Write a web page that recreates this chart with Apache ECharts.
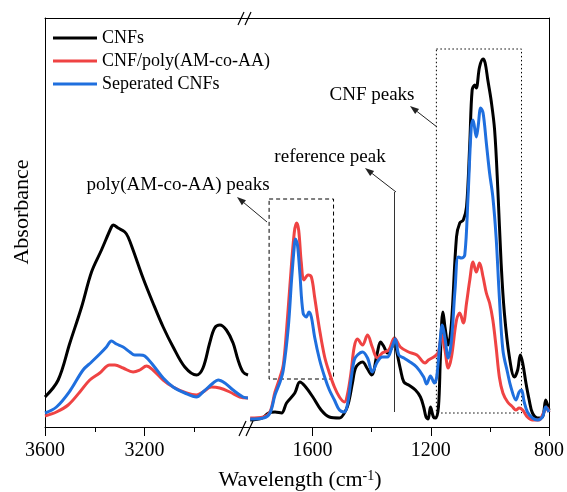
<!DOCTYPE html>
<html>
<head>
<meta charset="utf-8">
<script src="https://cdn.jsdelivr.net/npm/echarts@6/dist/echarts.min.js"></script>
<style>
  html, body { margin: 0; padding: 0; background: #fff; }
  #chart { width: 567px; height: 492px; }
</style>
</head>
<body>
<div id="chart"></div>
<script>
// wavenumber (cm-1), absorbance (a.u.)
const cnfLeft = [[3600,0.30],[3547,0.47],[3500,0.84],[3453,1.20],[3413,1.55],[3373,1.77],[3333,2.00],[3326,2.02],[3306,1.99],[3279,1.95],[3266,1.90],[3246,1.77],[3206,1.49],[3166,1.24],[3125,1.00],[3085,0.80],[3038,0.60],[2991,0.52],[2965,0.59],[2938,0.84],[2918,0.99],[2897,1.02],[2871,0.97],[2844,0.84],[2824,0.67],[2804,0.55],[2784,0.52]]
const compLeft = [[3600,0.11],[3554,0.15],[3507,0.22],[3460,0.35],[3420,0.47],[3380,0.54],[3340,0.62],[3319,0.62],[3286,0.59],[3246,0.55],[3219,0.57],[3192,0.61],[3166,0.57],[3125,0.47],[3085,0.40],[3031,0.34],[2991,0.32],[2965,0.35],[2931,0.40],[2898,0.39],[2857,0.35],[2817,0.30],[2784,0.29]]
const sepLeft = [[3600,0.14],[3554,0.20],[3500,0.36],[3447,0.57],[3413,0.65],[3380,0.73],[3353,0.80],[3333,0.86],[3313,0.83],[3286,0.80],[3259,0.75],[3239,0.72],[3219,0.72],[3199,0.71],[3166,0.62],[3125,0.49],[3085,0.40],[3038,0.34],[2991,0.30],[2965,0.35],[2924,0.44],[2904,0.47],[2877,0.44],[2844,0.37],[2804,0.30],[2784,0.29]]

const cnfRight = [[1811,0.07],[1771,0.09],[1749,0.14],[1727,0.15],[1705,0.14],[1688,0.24],[1660,0.34],[1643,0.45],[1626,0.41],[1599,0.30],[1571,0.17],[1543,0.10],[1509,0.09],[1487,0.17],[1476,0.27],[1465,0.44],[1453,0.60],[1431,0.65],[1414,0.58],[1400,0.52],[1381,0.74],[1370,0.85],[1358,0.80],[1347,0.74],[1331,0.80],[1323,0.89],[1314,0.74],[1302,0.57],[1291,0.45],[1275,0.42],[1252,0.37],[1235,0.30],[1224,0.20],[1216,0.10],[1209,0.08],[1201,0.20],[1191,0.10],[1183,0.09],[1174,0.20],[1168,0.65],[1163,1.05],[1159,1.15],[1152,1.00],[1141,0.82],[1130,1.04],[1113,1.90],[1102,2.04],[1090,2.07],[1079,2.20],[1068,2.84],[1060,3.37],[1051,3.42],[1046,3.39],[1035,3.60],[1023,3.68],[1016,3.64],[1007,3.47],[996,3.27],[984,2.97],[973,2.37],[962,1.64],[951,1.14],[934,0.70],[917,0.50],[906,0.57],[897,0.72],[889,0.64],[878,0.44],[867,0.27],[856,0.14],[839,0.09],[822,0.10],[811,0.27],[800,0.17]]
const compRight = [[1811,0.09],[1766,0.10],[1744,0.15],[1727,0.35],[1710,0.50],[1699,0.62],[1688,0.97],[1677,1.40],[1662,1.94],[1654,2.04],[1647,1.97],[1638,1.64],[1629,1.47],[1615,1.52],[1604,1.50],[1593,1.30],[1576,0.97],[1559,0.70],[1543,0.54],[1526,0.40],[1509,0.30],[1492,0.25],[1481,0.34],[1470,0.54],[1459,0.80],[1448,0.88],[1431,0.82],[1414,0.92],[1398,0.80],[1381,0.69],[1364,0.74],[1342,0.77],[1323,0.89],[1303,0.80],[1275,0.75],[1247,0.72],[1219,0.64],[1208,0.67],[1185,0.71],[1174,0.75],[1163,0.92],[1152,0.77],[1141,0.59],[1130,0.70],[1113,1.07],[1102,1.14],[1090,1.04],[1079,1.24],[1068,1.47],[1057,1.65],[1046,1.55],[1035,1.64],[1023,1.50],[1012,1.34],[1001,1.24],[990,1.07],[979,0.80],[968,0.50],[956,0.34],[940,0.25],[923,0.20],[912,0.17],[901,0.19],[889,0.17],[873,0.10],[856,0.07],[834,0.07],[817,0.15],[806,0.19],[800,0.15]]
const sepRight = [[1811,0.08],[1766,0.09],[1744,0.14],[1727,0.32],[1710,0.45],[1699,0.57],[1682,1.00],[1671,1.47],[1662,1.80],[1658,1.88],[1651,1.82],[1643,1.54],[1632,1.14],[1621,1.10],[1612,1.15],[1604,1.10],[1593,0.90],[1576,0.67],[1559,0.50],[1543,0.37],[1526,0.27],[1509,0.17],[1492,0.15],[1481,0.24],[1470,0.47],[1459,0.67],[1448,0.72],[1431,0.75],[1414,0.69],[1398,0.55],[1381,0.65],[1364,0.70],[1347,0.70],[1331,0.80],[1320,0.88],[1308,0.72],[1291,0.69],[1275,0.66],[1248,0.60],[1224,0.50],[1214,0.43],[1201,0.51],[1188,0.44],[1180,0.50],[1169,0.84],[1161,1.02],[1152,0.89],[1141,0.69],[1130,0.87],[1118,1.37],[1107,1.70],[1096,1.69],[1085,1.72],[1074,2.30],[1063,3.00],[1057,3.07],[1046,2.90],[1040,3.00],[1031,3.19],[1023,3.14],[1012,2.84],[1001,2.54],[990,2.30],[979,1.90],[968,1.30],[956,0.77],[940,0.54],[929,0.40],[912,0.27],[901,0.35],[893,0.37],[884,0.25],[873,0.15],[856,0.09],[839,0.07],[822,0.10],[811,0.20],[800,0.15]]

const leftTicks = [3600, 3200]
const leftMinor = [3400, 3000]
const rightTicks = [1600, 1200, 800]
const rightMinor = [1400, 1000]

// annotation boxes / reference line, in data units
const polyBox = [[1747, 2.28], [1529, 0.48]]
const cnfBox = [[1181, 3.78], [893, 0.14]]
const refLine = [[1322, 2.35], [1322, 0.15]]

const names = ['CNFs', 'CNF/poly(AM-co-AA)', 'Seperated CNFs']
const colors = ['#000000', '#EF4343', '#1F6FDE']
const font = "'Liberation Serif', 'Times New Roman', serif"
const yMax = 4.09

const chart = echarts.init(document.getElementById('chart'))

function mainAxis(grid, min, max, ticks) {
  return {
    type: 'value', gridIndex: grid, min: min, max: max, inverse: true, position: 'bottom',
    splitLine: { show: false },
    axisLine: { show: true, onZero: false, lineStyle: { color: '#000', width: 1 } },
    axisTick: { show: true, length: 9, customValues: ticks, lineStyle: { color: '#000' } },
    axisLabel: { show: true, customValues: ticks, margin: 14, color: '#000', fontSize: 20, fontFamily: font,
      formatter: v => String(v) }
  }
}
function minorAxis(grid, min, max, ticks) {
  return {
    type: 'value', gridIndex: grid, min: min, max: max, inverse: true, position: 'bottom',
    splitLine: { show: false },
    axisLine: { show: false, onZero: false },
    axisTick: { show: true, length: 5, customValues: ticks, lineStyle: { color: '#000' } },
    axisLabel: { show: false }
  }
}
function topAxis(grid, min, max) {
  return {
    type: 'value', gridIndex: grid, min: min, max: max, inverse: true, position: 'top',
    splitLine: { show: false },
    axisLine: { show: true, onZero: false, lineStyle: { color: '#000', width: 1 } },
    axisTick: { show: false }, axisLabel: { show: false }
  }
}

function line(i, data, xIdx, yIdx) {
  return {
    name: names[i], type: 'line', xAxisIndex: xIdx, yAxisIndex: yIdx,
    data: data, showSymbol: false, symbol: 'none', smooth: 0.35,
    lineStyle: { color: colors[i], width: 3 }, itemStyle: { color: colors[i] },
    z: 3 + i, silent: true
  }
}

function arrow(x1, y1, x2, y2) {
  const dx = x2 - x1, dy = y2 - y1, L = Math.hypot(dx, dy)
  const ux = dx / L, uy = dy / L
  const bx = x2 - ux * 9, by = y2 - uy * 9, nx = -uy * 3.2, ny = ux * 3.2
  return [
    { type: 'line', shape: { x1: x1, y1: y1, x2: bx, y2: by }, style: { stroke: '#222', lineWidth: 1 } },
    { type: 'polygon', shape: { points: [[x2, y2], [bx + nx, by + ny], [bx - nx, by - ny]] }, style: { fill: '#222' } }
  ]
}
function label(text, x, y, size) {
  return { type: 'text', x: x, y: y, style: { text: text, fontSize: size, fontFamily: font, fill: '#000', align: 'center', verticalAlign: 'middle' } }
}
function slash(x1, y1, x2, y2) {
  return { type: 'line', shape: { x1: x1, y1: y1, x2: x2, y2: y2 }, style: { stroke: '#000', lineWidth: 1.2 } }
}

const boxes = line(0, cnfRight, 3, 1)
boxes.markArea = {
  silent: true,
  data: [
    [{ coord: polyBox[0], itemStyle: { color: 'rgba(0,0,0,0)', borderColor: '#000', borderWidth: 1, borderType: [4, 3] } }, { coord: polyBox[1] }],
    [{ coord: cnfBox[0], itemStyle: { color: 'rgba(0,0,0,0)', borderColor: '#000', borderWidth: 1, borderType: [1.5, 2.5] } }, { coord: cnfBox[1] }]
  ]
}
boxes.markLine = {
  silent: true, symbol: 'none', label: { show: false },
  lineStyle: { color: '#333', width: 1, type: 'solid' },
  data: [[{ coord: refLine[0] }, { coord: refLine[1] }]]
}

chart.setOption({
  animation: false,
  textStyle: { fontFamily: font },
  grid: [
    { left: 45, top: 18, width: 204, bottom: 65 },
    { left: 249, top: 18, right: 15, bottom: 65 }
  ],
  xAxis: [
    mainAxis(0, 2780, 3600, leftTicks),
    minorAxis(0, 2780, 3600, leftMinor),
    topAxis(0, 2780, 3600),
    mainAxis(1, 800, 1815, rightTicks),
    minorAxis(1, 800, 1815, rightMinor),
    topAxis(1, 800, 1815)
  ],
  yAxis: [
    { type: 'value', gridIndex: 0, min: 0, max: yMax, position: 'left', splitLine: { show: false },
      axisLine: { show: true, lineStyle: { color: '#000' } }, axisTick: { show: false }, axisLabel: { show: false } },
    { type: 'value', gridIndex: 1, min: 0, max: yMax, position: 'right', splitLine: { show: false },
      axisLine: { show: true, lineStyle: { color: '#000' } }, axisTick: { show: false }, axisLabel: { show: false } }
  ],
  legend: {
    data: names, orient: 'vertical', left: 53, top: 29, padding: 0, icon: 'rect',
    itemWidth: 44, itemHeight: 3, itemGap: 5,
    textStyle: { fontSize: 18, fontFamily: font, color: '#000' },
    selectedMode: false
  },
  series: [
    line(0, cnfLeft, 0, 0), line(1, compLeft, 0, 0), line(2, sepLeft, 0, 0),
    boxes, line(1, compRight, 3, 1), line(2, sepRight, 3, 1)
  ],
  graphic: [
    label('CNF peaks', 372, 95, 19),
    label('reference peak', 330, 157, 19),
    label('poly(AM-co-AA) peaks', 178, 185, 19),
    ...arrow(437, 127, 410, 106),
    ...arrow(396, 192, 365, 168),
    ...arrow(267, 222, 237, 197),
    slash(238, 25, 244, 12), slash(245, 25, 251, 12),
    slash(239, 436, 246, 421), slash(246, 436, 253, 421),
    { type: 'text', x: 22, y: 212, rotation: Math.PI / 2,
      style: { text: 'Absorbance', fontSize: 22, fontFamily: font, fill: '#000', align: 'center', verticalAlign: 'middle' } },
    { type: 'text', x: 300, y: 480,
      style: { text: 'Wavelength (cm{sup|-1})', fontSize: 22, fontFamily: font, fill: '#000', align: 'center', verticalAlign: 'middle',
        rich: { sup: { fontSize: 14, fontFamily: font, verticalAlign: 'top', padding: [0, 0, 8, 0] } } } }
  ]
})
</script>
</body>
</html>
